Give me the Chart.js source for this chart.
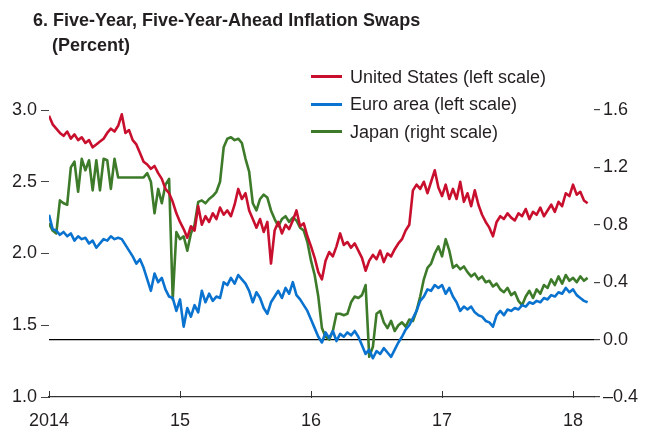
<!DOCTYPE html>
<html>
<head>
<meta charset="utf-8">
<script src="https://cdn.jsdelivr.net/npm/chart.js@4.4.0/dist/chart.umd.min.js"></script>
<style>
  body { margin: 0; background: #fff; }
  #wrap { position: relative; width: 651px; height: 432px; font-family: 'Liberation Sans Narrow', 'Arial Narrow', 'Liberation Sans', sans-serif; color: #231f20; }
  #chart { position: absolute; left: 0; top: 0; }
  .title { position: absolute; left: 33px; top: 11px; font-size: 18px; line-height: 18px; font-weight: bold; white-space: nowrap; }
  .sub { position: absolute; left: 52px; top: 36px; font-size: 18px; line-height: 18px; font-weight: bold; }
  #legend { position: absolute; left: 311px; top: 63px; }
  .row { height: 27.5px; display: flex; align-items: center; font-size: 18px; line-height: 20px; white-space: nowrap; }
  .swatch { width: 31px; height: 3px; margin-right: 8px; }
</style>
</head>
<body>
<div id="wrap">
  <canvas id="chart" width="651" height="432"></canvas>
  <div class="title">6. Five-Year, Five-Year-Ahead Inflation Swaps</div>
  <div class="sub">(Percent)</div>
  <div id="legend"></div>
</div>
<script>
// three readings a month, Jan 2014 to mid-Feb 2018
var startYear = 2014, perYear = 36;

var unitedStates = [
  2.96, 2.90, 2.87, 2.84, 2.82, 2.85, 2.80, 2.83, 2.79, 2.81, 2.77, 2.79,
  2.74, 2.76, 2.78, 2.80, 2.84, 2.87, 2.85, 2.89, 2.97, 2.84, 2.86, 2.79,
  2.76, 2.70, 2.64, 2.62, 2.59, 2.61, 2.56, 2.52, 2.45, 2.42, 2.36, 2.28,
  2.22, 2.17, 2.11, 2.19, 2.16, 2.33, 2.20, 2.26, 2.22, 2.28, 2.24, 2.32,
  2.27, 2.30, 2.26, 2.34, 2.45, 2.38, 2.42, 2.30, 2.24, 2.18, 2.24, 2.15,
  2.22, 1.93, 2.16, 2.22, 2.14, 2.20, 2.17, 2.23, 2.30, 2.19, 2.21, 2.12,
  2.05, 1.97, 1.87, 1.82, 1.95, 2.01, 1.98, 2.05, 2.14, 2.06, 2.08, 2.04,
  2.07, 2.02, 1.97, 1.88, 1.95, 1.99, 1.96, 2.02, 1.94, 2.00, 1.98, 2.03,
  2.07, 2.10, 2.16, 2.20, 2.44, 2.48, 2.45, 2.50, 2.42, 2.50, 2.58, 2.46,
  2.40, 2.48, 2.38, 2.45, 2.38, 2.50, 2.36, 2.42, 2.33, 2.44, 2.34, 2.27,
  2.22, 2.18, 2.12, 2.22, 2.26, 2.24, 2.28, 2.25, 2.23, 2.28, 2.26, 2.31,
  2.24, 2.29, 2.27, 2.32, 2.26, 2.30, 2.34, 2.29, 2.36, 2.33, 2.42, 2.40,
  2.48, 2.41, 2.43, 2.37, 2.35
];

var euroArea = [
  2.27, 2.17, 2.16, 2.13, 2.15, 2.12, 2.14, 2.09, 2.12, 2.10, 2.11, 2.07,
  2.09, 2.04, 2.07, 2.10, 2.09, 2.12, 2.10, 2.11, 2.10, 2.06, 2.02, 1.98,
  1.93, 1.96, 1.90, 1.82, 1.74, 1.86, 1.80, 1.83, 1.75, 1.70, 1.69, 1.60,
  1.68, 1.49, 1.62, 1.56, 1.64, 1.59, 1.74, 1.66, 1.72, 1.67, 1.70, 1.69,
  1.80, 1.78, 1.83, 1.79, 1.85, 1.82, 1.79, 1.74, 1.66, 1.73, 1.69, 1.62,
  1.58, 1.66, 1.70, 1.74, 1.69, 1.76, 1.72, 1.80, 1.71, 1.68, 1.64, 1.60,
  1.54, 1.48, 1.42, 1.38, 1.45, 1.41, 1.46, 1.39, 1.44, 1.42, 1.45, 1.43,
  1.46, 1.42, 1.36, 1.30, 1.33, 1.27, 1.32, 1.30, 1.34, 1.31, 1.28, 1.33,
  1.38, 1.42, 1.47, 1.50, 1.55, 1.60, 1.67, 1.70, 1.75, 1.74, 1.78, 1.76,
  1.78, 1.72, 1.76, 1.70, 1.66, 1.60, 1.63, 1.61, 1.63, 1.59, 1.57, 1.56,
  1.53, 1.52, 1.49, 1.57, 1.60, 1.57, 1.61, 1.60, 1.62, 1.61, 1.64, 1.63,
  1.66, 1.65, 1.67, 1.66, 1.69, 1.68, 1.71, 1.70, 1.73, 1.72, 1.76, 1.73,
  1.75, 1.71, 1.69, 1.67, 1.66
];

var japan = [
  0.81, 0.76, 0.74, 0.97, 0.95, 0.94, 1.20, 1.24, 1.03, 1.26, 1.18, 1.25,
  1.04, 1.25, 1.04, 1.26, 1.25, 1.05, 1.26, 1.13, 1.13, 1.13, 1.13, 1.13,
  1.13, 1.13, 1.13, 1.16, 1.10, 0.88, 1.05, 0.95, 1.08, 1.12, 0.28, 0.75,
  0.70, 0.72, 0.62, 0.74, 0.80, 0.96, 0.97, 0.95, 0.98, 1.00, 1.03, 1.10,
  1.34, 1.40, 1.41, 1.39, 1.40, 1.37, 1.26, 1.17, 0.95, 0.90, 0.98, 1.01,
  0.99, 0.90, 0.84, 0.79, 0.84, 0.86, 0.82, 0.85, 0.83, 0.78, 0.76, 0.68,
  0.55, 0.45, 0.30, 0.08, 0.02, 0.00, 0.06, 0.18, 0.18, 0.17, 0.18, 0.26,
  0.30, 0.29, 0.31, 0.38, -0.12, -0.05, 0.18, 0.20, 0.12, 0.08, 0.13, 0.06,
  0.10, 0.12, 0.09, 0.14, 0.13, 0.20, 0.30, 0.42, 0.50, 0.53, 0.60, 0.65,
  0.58, 0.70, 0.62, 0.50, 0.52, 0.49, 0.51, 0.47, 0.44, 0.46, 0.42, 0.44,
  0.40, 0.41, 0.37, 0.39, 0.35, 0.33, 0.36, 0.31, 0.33, 0.27, 0.24, 0.30,
  0.34, 0.29, 0.35, 0.32, 0.38, 0.36, 0.42, 0.38, 0.44, 0.39, 0.45, 0.41,
  0.43, 0.40, 0.44, 0.41, 0.43
];

var yearTicks = [2014, 2015, 2016, 2017, 2018];
var yearLabels = ['2014', '15', '16', '17', '18'];
var leftTicks = [1.0, 1.5, 2.0, 2.5, 3.0];
var rightTicks = [-0.4, 0.0, 0.4, 0.8, 1.2, 1.6];

var seriesNames = ['United States (left scale)', 'Euro area (left scale)', 'Japan (right scale)'];
var seriesColors = ['#c8102e', '#0a72cf', '#3d7b2a'];

function toPoints(values) {
  var pts = [];
  for (var i = 0; i < values.length; i++) {
    pts.push({ x: startYear + i / perYear, y: values[i] });
  }
  return pts;
}

var tickFont = { family: "'Liberation Sans Narrow', 'Arial Narrow', 'Liberation Sans', sans-serif", size: 18 };

// year ticks point up from the axis line
var xTickMarks = {
  id: 'xTickMarks',
  afterDraw: function (chart) {
    var sx = chart.scales.x, ctx = chart.ctx, bottom = chart.chartArea.bottom;
    ctx.save();
    ctx.strokeStyle = '#333';
    ctx.lineWidth = 1;
    sx.ticks.forEach(function (t) {
      var px = Math.round(sx.getPixelForValue(t.value)) + 0.5;
      ctx.beginPath();
      ctx.moveTo(px, bottom - 6);
      ctx.lineTo(px, bottom + 1);
      ctx.stroke();
    });
    ctx.restore();
  }
};

var chart = new Chart(document.getElementById('chart'), {
  type: 'line',
  data: {
    datasets: [
      { label: seriesNames[0], data: toPoints(unitedStates), yAxisID: 'y', borderColor: seriesColors[0] },
      { label: seriesNames[1], data: toPoints(euroArea), yAxisID: 'y', borderColor: seriesColors[1] },
      { label: seriesNames[2], data: toPoints(japan), yAxisID: 'y1', borderColor: seriesColors[2] }
    ]
  },
  options: {
    responsive: false,
    animation: false,
    layout: { padding: { top: 110, left: 0, right: 0, bottom: 0 } },
    elements: {
      line: { borderWidth: 2.6, tension: 0, borderJoinStyle: 'round' },
      point: { radius: 0 }
    },
    plugins: { legend: { display: false }, tooltip: { enabled: false } },
    scales: {
      x: {
        type: 'linear',
        min: 2014,
        max: 2018.16,
        afterBuildTicks: function (s) { s.ticks = yearTicks.map(function (v) { return { value: v }; }); },
        afterFit: function (s) { s.height = 35; },
        ticks: {
          callback: function (v, i) { return yearLabels[i]; },
          font: tickFont, color: '#231f20', padding: 13, maxRotation: 0, autoSkip: false
        },
        grid: { drawOnChartArea: false, drawTicks: false },
        border: { display: true, color: '#333', width: 1.2 }
      },
      y: {
        position: 'left',
        min: 1.0,
        max: 3.0,
        afterBuildTicks: function (s) { s.ticks = leftTicks.map(function (v) { return { value: v }; }); },
        afterFit: function (s) { s.width = 49; },
        ticks: {
          callback: function (v) { return v.toFixed(1); },
          font: tickFont, color: '#231f20', padding: 4
        },
        grid: { drawOnChartArea: false, tickLength: 8, tickColor: '#444' },
        border: { display: false }
      },
      y1: {
        position: 'right',
        min: -0.4,
        max: 1.6,
        afterBuildTicks: function (s) { s.ticks = rightTicks.map(function (v) { return { value: v }; }); },
        afterFit: function (s) { s.width = 57; },
        ticks: {
          callback: function (v) { return v < 0 ? '\u2013' + Math.abs(v).toFixed(1) : v.toFixed(1); },
          font: tickFont, color: '#231f20', padding: 3
        },
        grid: {
          drawOnChartArea: true,
          tickLength: 6,
          tickColor: '#444',
          lineWidth: 1.2,
          color: function (c) { return c.tick && c.tick.value === 0 ? '#000' : 'rgba(0,0,0,0)'; }
        },
        border: { display: false }
      }
    }
  },
  plugins: [xTickMarks]
});

// legend built from the datasets
var legendHtml = '';
chart.data.datasets.forEach(function (ds) {
  legendHtml += '<div class="row"><span class="swatch" style="background:' + ds.borderColor + '"></span>' + ds.label + '</div>';
});
document.getElementById('legend').innerHTML = legendHtml;
</script>
</body>
</html>
